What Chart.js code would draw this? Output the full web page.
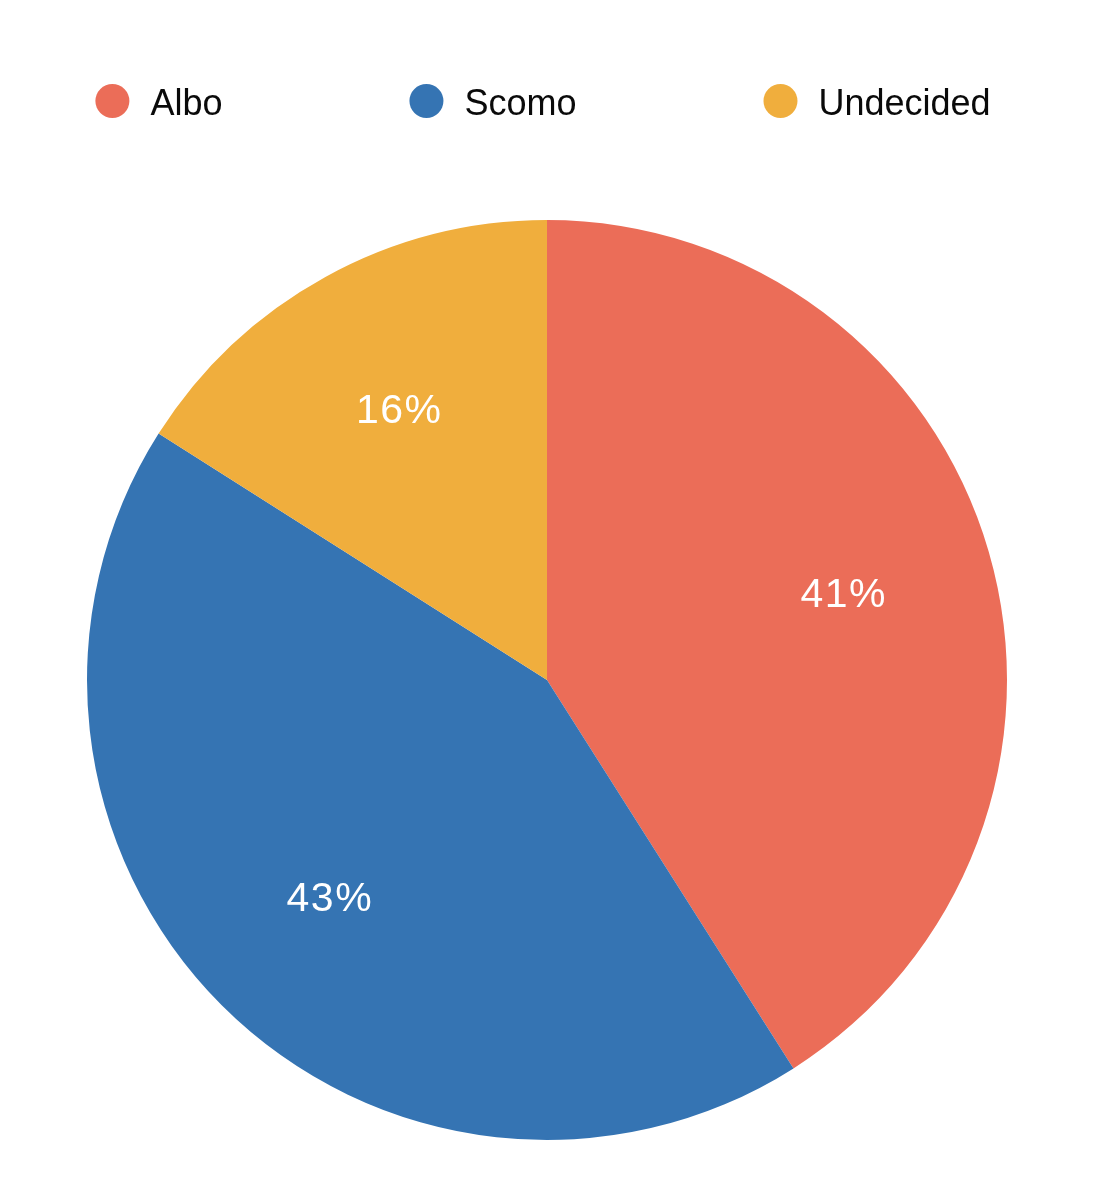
<!DOCTYPE html>
<html>
<head>
<meta charset="utf-8">
<script src="https://cdn.jsdelivr.net/npm/chart.js@4.4.0/dist/chart.umd.min.js"></script>
<style>
  html, body { margin: 0; padding: 0; background: #ffffff; }
  #wrap { width: 1102px; height: 1200px; }
</style>
</head>
<body>
<div id="wrap"><canvas id="c" width="1102" height="1200"></canvas></div>
<script>
// ---- data ----
const categories = ["Albo", "Scomo", "Undecided"];
const values = [41, 43, 16];
const sliceColors = ["#EB6D58", "#3574B3", "#F0AE3D"];
const valueSuffix = "%";

const FONT = "'Liberation Sans', Arial, Helvetica, sans-serif";

// custom legend drawn above the pie
const topLegend = {
  id: "topLegend",
  afterDraw(chart) {
    const ctx = chart.ctx;
    const labels = chart.data.labels;
    const colors = chart.data.datasets[0].backgroundColor;
    const dot = 34, gapText = 21, spacing = 187, baseY = 115, dotY = 101;
    ctx.save();
    ctx.font = "36px " + FONT;
    const widths = labels.map(t => ctx.measureText(t).width);
    const total = widths.reduce((a, w) => a + dot + gapText + w, 0) + spacing * (labels.length - 1);
    const cx = (chart.chartArea.left + chart.chartArea.right) / 2 - 4;
    let x = cx - total / 2;
    labels.forEach((t, i) => {
      ctx.fillStyle = colors[i];
      ctx.beginPath();
      ctx.arc(x + dot / 2, dotY, dot / 2, 0, Math.PI * 2);
      ctx.fill();
      ctx.fillStyle = "#0a0a0a";
      ctx.textAlign = "left";
      ctx.textBaseline = "alphabetic";
      ctx.fillText(t, x + dot + gapText, baseY);
      x += dot + gapText + widths[i] + spacing;
    });
    ctx.restore();
  }
};

// percentage labels inside slices
const sliceLabels = {
  id: "sliceLabels",
  afterDatasetsDraw(chart) {
    const ctx = chart.ctx;
    const meta = chart.getDatasetMeta(0);
    const data = chart.data.datasets[0].data;
    const ls = 1.5;
    ctx.save();
    ctx.font = "41px " + FONT;
    if ("letterSpacing" in ctx) ctx.letterSpacing = ls + "px";
    ctx.fillStyle = "#ffffff";
    ctx.textAlign = "center";
    ctx.textBaseline = "middle";
    meta.data.forEach((arc, i) => {
      const p = arc.getProps(["x", "y", "startAngle", "endAngle", "outerRadius"], true);
      const mid = (p.startAngle + p.endAngle) / 2;
      const r = p.outerRadius * 0.67;
      ctx.fillText(data[i] + valueSuffix, p.x + Math.cos(mid) * r + ls / 2, p.y + Math.sin(mid) * r + 2);
    });
    ctx.restore();
  }
};

new Chart(document.getElementById("c"), {
  type: "pie",
  data: {
    labels: categories,
    datasets: [{
      data: values,
      backgroundColor: sliceColors,
      borderWidth: 0,
      hoverOffset: 0
    }]
  },
  options: {
    responsive: false,
    devicePixelRatio: 1,
    animation: false,
    layout: { padding: { top: 220, bottom: 60, left: 87, right: 95 } },
    plugins: {
      legend: { display: false },
      tooltip: { enabled: false }
    }
  },
  plugins: [sliceLabels, topLegend]
});
</script>
</body>
</html>
